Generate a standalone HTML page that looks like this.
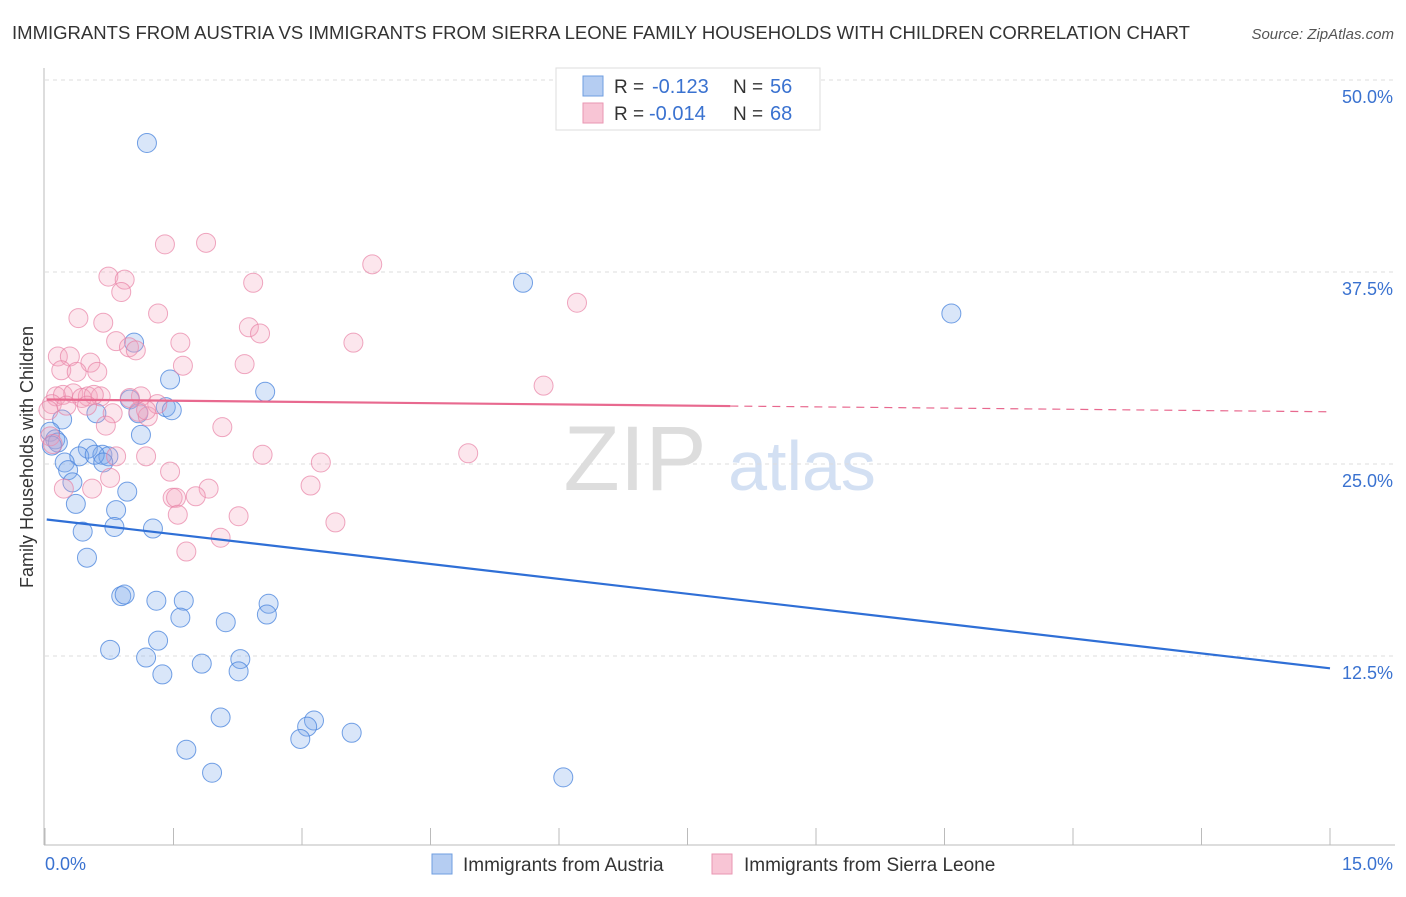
<!DOCTYPE html>
<html><head><meta charset="utf-8"><style>
body{margin:0;background:#fff;font-family:"Liberation Sans",sans-serif;}
svg text{font-family:"Liberation Sans",sans-serif;}
</style></head><body>
<svg id="chart" width="1406" height="892">
<text x="12" y="39" font-size="18" fill="#333" textLength="1178" lengthAdjust="spacingAndGlyphs">IMMIGRANTS FROM AUSTRIA VS IMMIGRANTS FROM SIERRA LEONE FAMILY HOUSEHOLDS WITH CHILDREN CORRELATION CHART</text>
<text x="1394" y="39" font-size="15" fill="#555" font-style="italic" text-anchor="end">Source: ZipAtlas.com</text>
<text x="33" y="457" font-size="18" fill="#333" text-anchor="middle" transform="rotate(-90 33 457)">Family Households with Children</text>
<g><text x="635" y="490" font-size="92" fill="#ddd" text-anchor="middle" font-family="Liberation Serif">ZIP</text><text x="802" y="490" font-size="70" fill="#d3e0f3" text-anchor="middle">atlas</text></g>
<g id="grid"></g><g id="axes"></g><g id="pts"></g><g id="trend"></g>
<g>
<rect x="556" y="68" width="264" height="62" fill="#fff" stroke="#ddd"/>
<rect x="583" y="76" width="20" height="20" fill="#b5cdf2" stroke="#6f9ee0"/>
<rect x="583" y="103" width="20" height="20" fill="#f8c5d5" stroke="#e996b2"/>
<text x="614" y="93" font-size="19" fill="#333">R =</text><text x="652" y="93" font-size="20" fill="#3a72d0">-0.123</text>
<text x="733" y="93" font-size="19" fill="#333">N =</text><text x="770" y="93" font-size="20" fill="#3a72d0">56</text>
<text x="614" y="120" font-size="19" fill="#333">R =</text><text x="649" y="120" font-size="20" fill="#3a72d0">-0.014</text>
<text x="733" y="120" font-size="19" fill="#333">N =</text><text x="770" y="120" font-size="20" fill="#3a72d0">68</text>
</g>
<g>
<rect x="432" y="854" width="20" height="20" fill="#b5cdf2" stroke="#6f9ee0"/>
<text x="463" y="871" font-size="19" fill="#333">Immigrants from Austria</text>
<rect x="712" y="854" width="20" height="20" fill="#f8c5d5" stroke="#e996b2"/>
<text x="744" y="871" font-size="19" fill="#333">Immigrants from Sierra Leone</text>
</g>
</svg>
<script>
const yTicks=[50,37.5,25,12.5];
const yTickLabels=["50.0%","37.5%","25.0%","12.5%"];
const xTickLabels=["0.0%","15.0%"];
const blueX=[1.19,5.58,10.58,1.04,1.46,2.57,0.99,1.41,1.48,1.09,0.60,0.20,1.12,0.06,0.12,0.15,0.08,0.50,0.40,0.67,0.74,0.58,0.68,0.23,0.27,0.32,0.96,0.36,0.83,0.81,0.44,1.26,0.49,0.89,0.93,1.30,1.62,1.58,2.61,2.59,2.11,1.32,0.76,1.18,1.83,2.28,2.26,1.37,2.05,3.14,3.06,2.98,3.58,1.65,1.95,6.05];
const blueY=[45.9,36.8,34.8,32.9,30.5,29.7,29.2,28.7,28.5,28.3,28.3,27.9,26.9,27.1,26.6,26.4,26.2,26.0,25.5,25.6,25.5,25.6,25.1,25.1,24.6,23.8,23.2,22.4,22.0,20.9,20.6,20.8,18.9,16.4,16.5,16.1,16.1,15.0,15.9,15.2,14.7,13.5,12.9,12.4,12.0,12.3,11.5,11.3,8.5,8.3,7.9,7.1,7.5,6.4,4.9,4.6];
const pinkX=[1.40,1.88,3.82,0.74,0.93,2.43,0.89,6.21,0.39,1.32,0.68,2.38,2.51,3.60,0.83,1.58,0.98,1.06,0.15,0.29,0.53,2.33,1.61,0.19,0.37,0.61,5.82,0.13,0.21,0.33,0.50,0.65,0.43,0.57,1.12,0.99,0.08,0.25,0.49,0.79,1.09,1.20,1.31,0.04,1.18,0.71,2.07,0.06,0.09,0.83,1.18,2.54,4.94,3.22,0.22,0.55,1.46,3.10,1.91,1.49,1.53,1.76,2.26,1.55,3.39,2.05,1.65,0.76];
const pinkY=[39.3,39.4,38.0,37.2,37.0,36.8,36.2,35.5,34.5,34.8,34.2,33.9,33.5,32.9,33.0,32.9,32.6,32.4,32.0,32.0,31.6,31.5,31.4,31.1,31.0,31.0,30.1,29.4,29.5,29.6,29.4,29.4,29.3,29.5,29.4,29.3,28.9,28.8,28.8,28.3,28.4,28.1,28.9,28.5,28.5,27.5,27.4,26.8,26.3,25.5,25.5,25.6,25.7,25.1,23.4,23.4,24.5,23.6,23.4,22.8,22.8,22.9,21.6,21.7,21.2,20.2,19.3,24.1];
const blueTrend=[21.4,11.7];
const pinkTrend=[29.2,28.4];
const NS="http://www.w3.org/2000/svg";
const sx=v=>45+v/15*1285;
const sy=v=>80+(50-v)*15.36;
function mk(t,a,p){const e=document.createElementNS(NS,t);for(const k in a)e.setAttribute(k,a[k]);document.getElementById(p).appendChild(e);return e;}
yTicks.forEach((t,i)=>{
 const l=mk('line',{x1:45,x2:1395,y1:sy(t),y2:sy(t),stroke:'#ddd','stroke-dasharray':'4,4'},'grid');
 
 
 const tx=mk('text',{x:1393,y:sy(t)+23,'font-size':18,fill:'#3a72d0','text-anchor':'end'},'axes');
 tx.textContent=yTickLabels[i];
 
 
});
mk('line',{x1:44,x2:44,y1:68,y2:845,stroke:'#bbb'},'axes');
mk('line',{x1:44,x2:1395,y1:845,y2:845,stroke:'#bbb'},'axes');
for(let i=0;i<=10;i++){const x=sx(i*1.5);mk('line',{x1:x,x2:x,y1:828,y2:845,stroke:'#bbb'},'axes');}
[[45,'start'],[1393,'end']].forEach((p,i)=>{const t=mk('text',{x:p[0],y:870,'font-size':18,fill:'#3a72d0','text-anchor':p[1]},'axes');t.textContent=xTickLabels[i];
 
 });
blueX.forEach((v,i)=>{const c=mk('circle',{cx:sx(v),cy:sy(blueY[i]),r:9.5,fill:'rgba(130,172,235,0.3)',stroke:'rgba(70,130,220,0.75)','stroke-width':1},'pts');
 
 });
pinkX.forEach((v,i)=>{const c=mk('circle',{cx:sx(v),cy:sy(pinkY[i]),r:9.5,fill:'rgba(245,165,192,0.28)',stroke:'rgba(232,130,165,0.7)','stroke-width':1},'pts');
 
 });
const bl=mk('line',{x1:sx(0.02),y1:sy(blueTrend[0]+(blueTrend[1]-blueTrend[0])*0.02/15),x2:sx(15),y2:sy(blueTrend[1]),stroke:'#2f6fd6','stroke-width':2.2},'trend');


const pf=x=>pinkTrend[0]+(pinkTrend[1]-pinkTrend[0])*x/15;
const pl=mk('line',{x1:sx(0.02),y1:sy(pf(0.02)),x2:sx(8),y2:sy(pf(8)),stroke:'#e8698f','stroke-width':2.2},'trend');


const pd=mk('line',{x1:sx(8),y1:sy(pf(8)),x2:sx(15),y2:sy(pf(15)),stroke:'#e8698f','stroke-width':1.2,'stroke-dasharray':'8,6'},'trend');


</script>
</body></html>
